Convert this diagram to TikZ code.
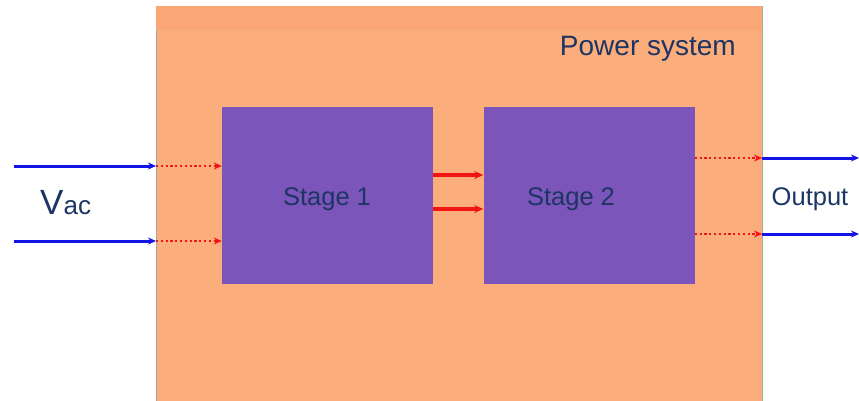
\documentclass[tikz,border=0pt]{standalone}
\usepackage{fontspec}
\setmainfont{Liberation Sans}
\usetikzlibrary{arrows.meta}
\definecolor{sysorange}{HTML}{FCAD7C}
\definecolor{sysband}{HTML}{FBA675}
\definecolor{stagepurple}{HTML}{7B55B9}
\definecolor{navy}{HTML}{1C3563}
\definecolor{lineblue}{HTML}{1414E6}
\definecolor{linered}{HTML}{F01414}
\tikzset{
  stagebox/.style={draw=none, fill=stagepurple, minimum width=211pt, minimum height=177pt, inner sep=0pt},
  lbl/.style={text=navy, inner sep=0pt},
  stagefont/.style={font=\fontsize{25.5}{30}\selectfont},
  bluearrow/.style={draw=lineblue, line width=3pt, -{Stealth[length=8pt,width=7pt]}},
  reddot/.style={draw=linered, line width=2.6pt, dash pattern=on 2.2pt off 2.6pt, -{Stealth[length=8pt,width=7pt]}},
  redarrow/.style={draw=linered, line width=3.2pt, -{Stealth[length=9pt,width=8pt]}},
}
\begin{document}
\begin{tikzpicture}[x=1pt,y=-1pt]
\useasboundingbox (0,0) rectangle (859,400);
% power system box
\node[draw=gray!70, line width=0.8pt, fill=sysorange, minimum width=606pt, minimum height=400pt, inner sep=0pt, anchor=north west] (sys) at (156,6) {};
\fill[sysband] (156.4,6.4) rectangle (761.6,30);
\node[lbl, font=\fontsize{28}{33}\selectfont, anchor=base east] (systitle) at (736,55) {Power system};
% stages
\node[stagebox] (s1) at (327.5,195.5) {};
\node[stagebox] (s2) at (589,195.5) {};
\node[lbl, stagefont] (s1t) at (327,199) {Stage 1};
\node[lbl, stagefont] (s2t) at (571,199) {Stage 2};
% input coordinates
\coordinate (in1) at (14,166);
\coordinate (in2) at (14,241);
\coordinate (b1) at (156,166);
\coordinate (b2) at (156,241);
\draw[bluearrow] (in1) -- (b1);
\draw[bluearrow] (in2) -- (b2);
\draw[reddot] (b1) -- (s1.west |- b1);
\draw[reddot] (b2) -- (s1.west |- b2);
% between stages
\coordinate (m1) at (433,175);
\coordinate (m2) at (433,209);
\draw[redarrow] (s1.east |- m1) -- (s2.west |- m1);
\draw[redarrow] (s1.east |- m2) -- (s2.west |- m2);
% outputs
\coordinate (o1) at (762,158);
\coordinate (o2) at (762,234);
\coordinate (e1) at (859,158);
\coordinate (e2) at (859,234);
\draw[reddot] (s2.east |- o1) -- (o1);
\draw[reddot] (s2.east |- o2) -- (o2);
\draw[bluearrow] (o1) -- (e1);
\draw[bluearrow] (o2) -- (e2);
% labels
\node[lbl, anchor=base west] (vac) at (40,214) {\fontsize{35}{40}\selectfont V\fontsize{26}{30}\selectfont ac};
\node[lbl, font=\fontsize{25.5}{30}\selectfont] (out) at (810,199) {Output};
\end{tikzpicture}
\end{document}
